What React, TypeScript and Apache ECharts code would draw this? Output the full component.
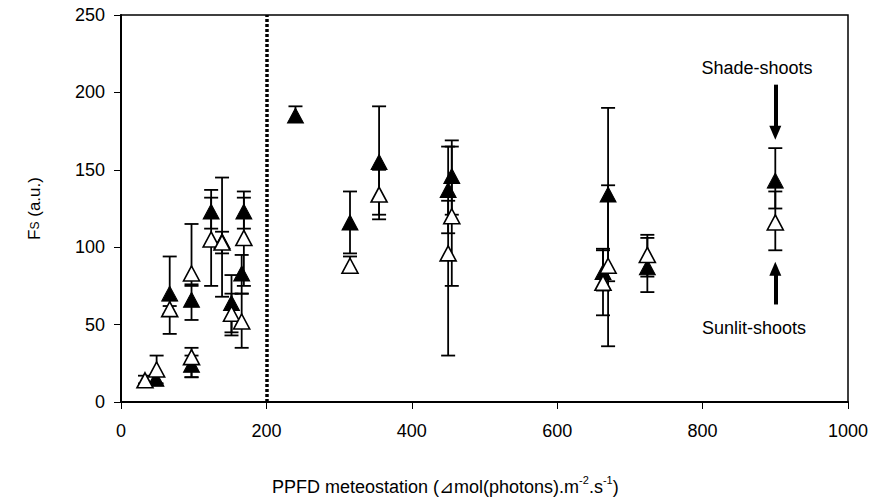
import React, { useEffect, useRef } from "react";
import * as echarts from "echarts";

// Shade-shoots (filled triangles)
const shadeX = [48, 67, 97, 97, 124, 139, 152, 169, 166, 240, 315, 355, 450, 455, 663, 670, 724, 900];
const shadeY = [15, 70, 66, 24, 123, 104, 64, 123, 83, 185, 116, 155, 137, 146, 84, 134, 87, 143];
const shadeLo = [12, 57, 53, 16, 112, 96, 45, 112, 70, 181, 96, 121, 109, 121, 72, 78, 81, 125];
const shadeHi = [17, 94, 76, 30, 137, 110, 82, 136, 95, 191, 136, 191, 165, 169, 98, 190, 106, 164];

// Sunlit-shoots (open triangles)
const sunX = [33, 49, 67, 97, 97, 124, 139, 152, 169, 166, 315, 355, 450, 455, 663, 670, 724, 900];
const sunY = [14, 21, 60, 83, 29, 105, 103, 57, 106, 52, 88, 134, 96, 120, 77, 88, 95, 116];
const sunLo = [12, 12, 44, 75, 16, 75, 68, 43, 75, 35, 85, 118, 30, 75, 56, 36, 71, 98];
const sunHi = [17, 30, 62, 115, 35, 132, 145, 70, 132, 70, 94, 150, 130, 165, 99, 140, 108, 136];

const xMin = 0, xMax = 1000, xStep = 200;
const yMin = 0, yMax = 250, yStep = 50;
const thresholdX = 200;
const arrowX = 900;
const shadeArrow = [205, 174];
const sunArrow = [63, 86];

export default function App() {
  const ref = useRef<HTMLDivElement>(null);
  useEffect(() => {
    const chart = echarts.init(ref.current!, null, { renderer: "svg" });
    const font = "Liberation Sans, Arial, sans-serif";
    const errRender = (params: any, api: any) => {
      const x = api.value(0), lo = api.value(1), hi = api.value(2);
      const p1 = api.coord([x, lo]);
      const p2 = api.coord([x, hi]);
      const w = 7;
      const style = { stroke: "#000", lineWidth: 1.8, fill: "none" };
      return {
        type: "group",
        children: [
          { type: "line", shape: { x1: p1[0], y1: p1[1], x2: p2[0], y2: p2[1] }, style },
          { type: "line", shape: { x1: p1[0] - w, y1: p1[1], x2: p1[0] + w, y2: p1[1] }, style },
          { type: "line", shape: { x1: p2[0] - w, y1: p2[1], x2: p2[0] + w, y2: p2[1] }, style },
        ],
      };
    };
    const option: any = {
      animation: false,
      backgroundColor: "#fff",
      grid: { left: 121, right: 40, top: 15, bottom: 97, show: true, borderColor: "#000", borderWidth: 1.5 },
      xAxis: {
        type: "value", min: xMin, max: xMax, interval: xStep,
        axisLine: { lineStyle: { color: "#000", width: 2 } },
        axisTick: { show: true, length: 7, inside: false, lineStyle: { color: "#000", width: 1 } },
        axisLabel: { color: "#000", fontSize: 18, fontFamily: font, margin: 20, formatter: (v: number) => String(v) },
        splitLine: { show: false },
      },
      yAxis: {
        type: "value", min: yMin, max: yMax, interval: yStep,
        axisLine: { show: true, lineStyle: { color: "#000", width: 2 } },
        axisTick: { show: true, length: 7, lineStyle: { color: "#000", width: 1 } },
        axisLabel: { color: "#000", fontSize: 18, fontFamily: font, margin: 16, formatter: (v: number) => String(v) },
        splitLine: { show: false },
        name: "{a|F}{b|S}{a| (a.u.)}",
        nameLocation: "middle",
        nameGap: 78,
        nameTextStyle: {
          color: "#000", fontFamily: font, fontSize: 17,
          rich: {
            a: { fontSize: 17, fontFamily: font, color: "#000" },
            b: { fontSize: 12, fontFamily: font, color: "#000" },
          },
        },
      },
      series: [
        {
          type: "custom", name: "shadeErr", renderItem: errRender,
          data: shadeX.map((x, i) => [x, shadeLo[i], shadeHi[i]]),
          encode: { x: 0, y: [1, 2] }, z: 2,
        },
        {
          type: "custom", name: "sunErr", renderItem: errRender,
          data: sunX.map((x, i) => [x, sunLo[i], sunHi[i]]),
          encode: { x: 0, y: [1, 2] }, z: 2,
        },
        {
          type: "scatter", name: "Shade-shoots", symbol: "triangle", symbolSize: [16, 15],
          data: shadeX.map((x, i) => [x, shadeY[i]]),
          itemStyle: { color: "#000", borderColor: "#000", borderWidth: 1, opacity: 1 }, z: 3,
          markLine: {
            silent: true, symbol: ["none", "triangle"], symbolSize: [12, 14],
            label: { show: false },
            lineStyle: { color: "#000", width: 4, type: "solid", opacity: 1 },
            data: [
              [{ coord: [arrowX, shadeArrow[0]] }, { coord: [arrowX, shadeArrow[1]] }],
              [{ coord: [arrowX, sunArrow[0]] }, { coord: [arrowX, sunArrow[1]] }],
            ],
          },
        },
        {
          type: "scatter", name: "Sunlit-shoots", symbol: "triangle", symbolSize: [16, 15],
          data: sunX.map((x, i) => [x, sunY[i]]),
          itemStyle: { color: "#fff", borderColor: "#000", borderWidth: 1.6, opacity: 1 }, z: 4,
          markLine: {
            silent: true, symbol: ["none", "none"],
            label: { show: false },
            lineStyle: { color: "#000", width: 3.5, type: [3, 2], opacity: 1 },
            data: [[{ coord: [thresholdX, yMin] }, { coord: [thresholdX, yMax] }]],
          },
        },
      ],
      graphic: [
        { type: "text", x: 757, y: 68, style: { text: "Shade-shoots", font: `18px ${font}`, fill: "#000", textAlign: "center", textVerticalAlign: "middle" } },
        { type: "text", x: 754, y: 328, style: { text: "Sunlit-shoots", font: `18px ${font}`, fill: "#000", textAlign: "center", textVerticalAlign: "middle" } },
        {
          type: "text", left: 272, top: 474,
          style: {
            text: "{t|PPFD meteostation (⊿mol(photons).m}{s|-2}{t|.s}{s|-1}{t|)}",
            rich: {
              t: { fontSize: 18, fontFamily: font, fill: "#000", color: "#000", verticalAlign: "bottom", lineHeight: 22 },
              s: { fontSize: 11, fontFamily: font, fill: "#000", color: "#000", verticalAlign: "top", lineHeight: 22 },
            },
          },
        },
      ],
    };
    chart.setOption(option);
    return () => chart.dispose();
  }, []);
  return <div ref={ref} style={{ position: "absolute", left: 0, top: 0, width: 888, height: 499 }} />;
}
